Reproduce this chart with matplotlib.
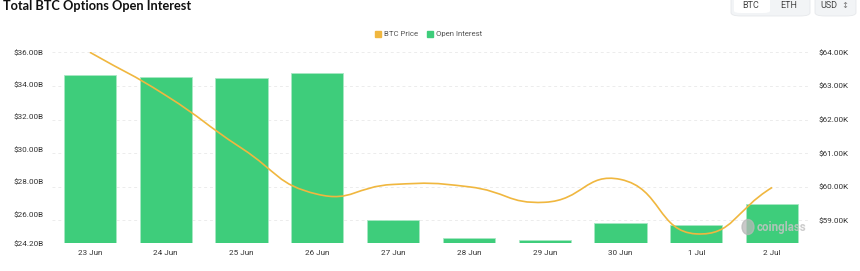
import matplotlib
matplotlib.use('Agg')
import matplotlib.pyplot as plt
from matplotlib.path import Path
from matplotlib.patches import PathPatch, FancyBboxPatch, Rectangle, Ellipse
import numpy as np

dates = ['23 Jun', '24 Jun', '25 Jun', '26 Jun', '27 Jun',
         '28 Jun', '29 Jun', '30 Jun', '1 Jul', '2 Jul']
# open interest, billions USD
open_interest = [34.60, 34.48, 34.40, 34.75, 25.62, 24.55, 24.40, 25.45, 25.30, 26.62]
# btc price, thousands USD
btc_price = [64.00, 62.72, 61.15, 59.78, 60.07, 60.00, 59.54, 60.22, 58.60, 59.98]

left_ticks = [24.2, 26, 28, 30, 32, 34, 36]
right_ticks = [59, 60, 61, 62, 63, 64]

GREEN = '#3ecd7b'
ORANGE = '#f0b73f'
TXT = '#333333'

plt.rcParams['font.family'] = ['Roboto', 'DejaVu Sans']

fig = plt.figure(figsize=(8.6, 2.71), dpi=100)
rect = [52 / 860, (271 - 243.3) / 271, 758 / 860, (243.3 - 52.3) / 271]
# grid axis (right scale) sits underneath, bars + line on top
ax2 = fig.add_axes(rect)
ax = fig.add_axes(rect, sharex=ax2)
ax.patch.set_visible(False)

x = np.arange(len(dates))
ax.bar(x, open_interest, width=0.69, color=GREEN, edgecolor='#a8e8c4', linewidth=0.6, zorder=2)
ax.set_xlim(-0.5, len(dates) - 0.5)
ax.set_ylim(24.2, 36)
ax.set_yticks(left_ticks)
ax.set_yticklabels(['$%.2fB' % v for v in left_ticks])
ax.set_xticks(x)
ax.set_xticklabels(dates)

ax2.yaxis.tick_right()
ax2.set_ylim(58.32, 64.0)
ax2.set_yticks(right_ticks)
ax2.set_yticklabels(['$%.2fK' % v for v in right_ticks])
ax2.yaxis.grid(True, color='#ececec', linestyle=(0, (3, 3)), linewidth=0.7)
ax2.axhline(58.32, color='#ececec', linestyle=(0, (3, 3)), linewidth=0.7)
ax2.tick_params(axis='x', labelbottom=False)

for a in (ax, ax2):
    for s in a.spines.values():
        s.set_visible(False)
    a.tick_params(length=0, labelsize=5.9, colors=TXT)
ax.tick_params(axis='y', pad=6)
ax.tick_params(axis='x', pad=5)
ax2.tick_params(axis='y', pad=6)

# watermark
fig.patches.append(Ellipse((748 / 860, 1 - 227 / 271), 12 / 860, 15 / 271,
                           transform=fig.transFigure, color='#b8b8b8', alpha=0.75))
fig.text(757 / 860, 1 - 228 / 271, 'coinglass', fontsize=8.3, color='#c4c4c4',
         ha='left', va='center', alpha=0.85, fontweight='bold')

# smoothed price line (bezier through each point, echarts style)
fig.canvas.draw()
pts = ax2.transData.transform(np.column_stack([x, btc_price]))
smooth = 0.5
n = len(pts)
cps = []
for i in range(n):
    p = pts[i]
    prev = pts[i - 1] if i > 0 else p
    nxt = pts[i + 1] if i < n - 1 else p
    v = (nxt - prev) * smooth
    d0 = np.hypot(*(p - prev))
    d1 = np.hypot(*(p - nxt))
    tot = d0 + d1 if d0 + d1 > 0 else 1
    cps.append((p - v * d0 / tot, p + v * d1 / tot))
verts = [pts[0]]
codes = [Path.MOVETO]
for i in range(n - 1):
    verts += [cps[i][1], cps[i + 1][0], pts[i + 1]]
    codes += [Path.CURVE4] * 3
inv = ax2.transData.inverted()
path = Path(inv.transform(np.array(verts)), codes)
ax.add_patch(PathPatch(path, transform=ax2.transData, facecolor='none',
                       edgecolor=ORANGE, linewidth=1.2, zorder=3))

# title
fig.text(3 / 860, 1 - 9.5 / 271, 'Total BTC Options Open Interest', fontsize=9.2,
         fontweight='bold', color='#111111', ha='left', va='baseline', family='Lato')

# legend
fig.patches.append(Rectangle((375 / 860, 1 - 37 / 271), 6 / 860, 6 / 271,
                             transform=fig.transFigure, color=ORANGE))
fig.text(384 / 860, 1 - 34 / 271, 'BTC Price', fontsize=5.6, color='#555555', va='center')
fig.patches.append(Rectangle((427 / 860, 1 - 37 / 271), 6 / 860, 6 / 271,
                             transform=fig.transFigure, color=GREEN))
fig.text(436 / 860, 1 - 34 / 271, 'Open Interest', fontsize=5.6, color='#555555', va='center')

# top-right switches
fig.patches.append(FancyBboxPatch((731 / 860, 1 - 16 / 271), 79 / 860, 20 / 271,
                                  boxstyle='round,pad=0,rounding_size=0.012',
                                  transform=fig.transFigure, facecolor='#f2f4f6',
                                  edgecolor='#e6e8eb', linewidth=0.6))
fig.patches.append(FancyBboxPatch((734 / 860, 1 - 13 / 271), 36 / 860, 17 / 271,
                                  boxstyle='round,pad=0,rounding_size=0.008',
                                  transform=fig.transFigure, facecolor='white',
                                  edgecolor='none'))
fig.patches.append(FancyBboxPatch((815 / 860, 1 - 16 / 271), 41 / 860, 20 / 271,
                                  boxstyle='round,pad=0,rounding_size=0.012',
                                  transform=fig.transFigure, facecolor='#f2f4f6',
                                  edgecolor='#e6e8eb', linewidth=0.6))
fig.text(751 / 860, 1 - 5 / 271, 'BTC', fontsize=6.5, color='#444444', ha='center', va='center')
fig.text(789 / 860, 1 - 5 / 271, 'ETH', fontsize=6.5, color='#444444', ha='center', va='center')
fig.text(829 / 860, 1 - 5 / 271, 'USD', fontsize=6.5, color='#444444', ha='center', va='center')
fig.text(845 / 860, 1 - 5 / 271, '↕', fontsize=6, color='#777777', ha='center', va='center',
         family='DejaVu Sans')

fig.savefig('out.png', dpi=100)
